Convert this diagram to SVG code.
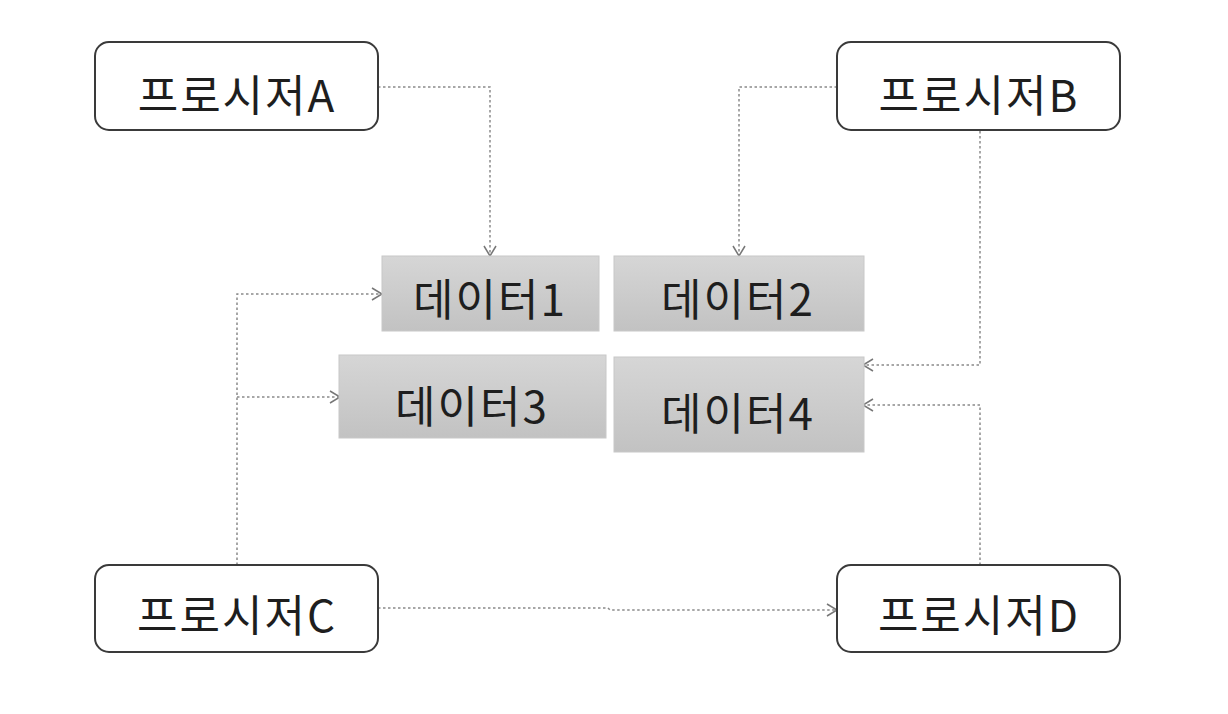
<svg xmlns="http://www.w3.org/2000/svg" width="1228" height="714" viewBox="0 0 1228 714">
<defs>
<linearGradient id="gd" x1="0" y1="0" x2="0" y2="1">
<stop offset="0" stop-color="#d6d6d6"/>
<stop offset="1" stop-color="#c2c2c2"/>
</linearGradient>
<marker id="ah" markerWidth="14" markerHeight="14" viewBox="0 0 14 14" refX="12" refY="7" orient="auto" markerUnits="userSpaceOnUse">
<path d="M2,1 L12,7 L2,13" fill="none" stroke="#777" stroke-width="1.5"/>
</marker>
</defs>
<style>
.proc{fill:#fff;stroke:#3a3a3a;stroke-width:2}
.data{fill:url(#gd);stroke:#c8c8c8;stroke-width:1}
.t{font-family:"Noto Sans CJK KR","Noto Sans",sans-serif;font-size:44px;letter-spacing:2px;fill:#1e1e1e;text-anchor:middle;dominant-baseline:central}
.c{fill:none;stroke:#8a8a8a;stroke-width:1.5;stroke-dasharray:2.5 2.5}
</style>
<rect width="1228" height="714" fill="#fff"/>
<g id="connectors">
<path class="c" d="M378,87 H490 V256" marker-end="url(#ah)"/>
<path class="c" d="M837,87 H739 V256" marker-end="url(#ah)"/>
<path class="c" d="M980,131 V365 H863" marker-end="url(#ah)"/>
<path class="c" d="M980,565 V405 H863" marker-end="url(#ah)"/>
<path class="c" d="M237,565 V294 H382" marker-end="url(#ah)"/>
<path class="c" d="M237,397 H340" marker-end="url(#ah)"/>
<path class="c" d="M378,608 H608 L610,610 H837" marker-end="url(#ah)"/>
</g>
<g id="procA"><rect class="proc" x="95" y="42" width="283" height="88" rx="14"/><text class="t" x="237" y="93">프로시저A</text></g>
<g id="procB"><rect class="proc" x="837" y="42" width="283" height="88" rx="14"/><text class="t" x="979" y="93">프로시저B</text></g>
<g id="procC"><rect class="proc" x="95" y="565" width="283" height="87" rx="14"/><text class="t" x="237" y="613">프로시저C</text></g>
<g id="procD"><rect class="proc" x="837" y="565" width="283" height="87" rx="14"/><text class="t" x="979" y="613">프로시저D</text></g>
<g id="data1"><rect class="data" x="382" y="256" width="217" height="75"/><text class="t" x="490" y="297">데이터1</text></g>
<g id="data2"><rect class="data" x="614" y="256" width="250" height="75"/><text class="t" x="738" y="297">데이터2</text></g>
<g id="data3"><rect class="data" x="339" y="355" width="267" height="83"/><text class="t" x="472" y="404">데이터3</text></g>
<g id="data4"><rect class="data" x="614" y="357" width="250" height="95"/><text class="t" x="738" y="411">데이터4</text></g>
</svg>
